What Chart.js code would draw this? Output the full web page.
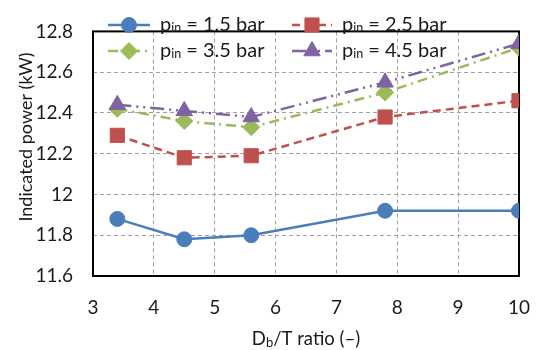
<!DOCTYPE html>
<html><head><meta charset="utf-8">
<script src="https://cdn.jsdelivr.net/npm/chart.js@4.4.1/dist/chart.umd.min.js"></script>
<style>html,body{margin:0;padding:0;background:#fff;}</style>
</head><body>
<canvas id="c" width="550" height="350" style="width:550px;height:350px;display:block"></canvas>
<script>
const xValues = [3.4, 4.5, 5.6, 7.8, 10];
const pressures = ['1.5', '2.5', '3.5', '4.5'];
const p15 = [11.88, 11.78, 11.80, 11.92, 11.92];
const p25 = [12.29, 12.18, 12.19, 12.38, 12.46];
const p35 = [12.42, 12.36, 12.33, 12.50, 12.72];
const p45 = [12.44, 12.41, 12.38, 12.55, 12.74];
const xTicks = [3, 4, 5, 6, 7, 8, 9, 10];
const yTicks = [11.6, 11.8, 12, 12.2, 12.4, 12.6, 12.8];

const FONT = 'Lato';
const TXT = '#1a1a1a';
Chart.defaults.font.family = FONT;
Chart.defaults.font.size = 19;
Chart.defaults.color = TXT;

const styles = [
  {color:'#4A7EBB', dash:[], style:'circle', r:7.5},
  {color:'#C0504D', dash:[8,5], style:'rect', r:10},
  {color:'#9BBB59', dash:[10,5,2,5], style:'rectRot', r:8.5},
  {color:'#8064A2', dash:[14,5,2,5,2,5], style:'triangle', r:9.5}
];
const series = [p15, p25, p35, p45];

const datasets = series.map((vals, i) => ({
  label: 'p_in = ' + pressures[i] + ' bar',
  data: xValues.map((x, j) => ({x: x, y: vals[j]})),
  borderColor: styles[i].color,
  backgroundColor: styles[i].color,
  borderDash: styles[i].dash,
  borderWidth: 2.5,
  pointStyle: styles[i].style,
  pointRadius: styles[i].r,
  pointHoverRadius: styles[i].r,
  pointBorderWidth: 1,
  pointBackgroundColor: styles[i].color,
  pointBorderColor: styles[i].color,
  tension: 0,
  order: 4 - i
}));

function drawSubText(ctx, parts, x, y) {
  let cx = x;
  parts.forEach(p => {
    ctx.font = p.size + 'px ' + FONT;
    ctx.fillText(p.t, cx, y + (p.dy || 0));
    cx += ctx.measureText(p.t).width;
  });
  return cx;
}
function measureSub(ctx, parts) {
  let w = 0;
  parts.forEach(p => { ctx.font = p.size + 'px ' + FONT; w += ctx.measureText(p.t).width; });
  return w;
}

const extras = {
  id: 'extras',
  beforeDatasetsDraw(chart) {
    const {ctx, chartArea: a} = chart;
    ctx.save();
    ctx.strokeStyle = '#000';
    ctx.lineWidth = 2;
    ctx.setLineDash([]);
    ctx.strokeRect(a.left, a.top, a.right - a.left, a.bottom - a.top);
    ctx.restore();
  },
  afterDraw(chart) {
    const {ctx, chartArea: a} = chart;
    ctx.save();
    ctx.fillStyle = TXT;
    // y title
    ctx.save();
    ctx.translate(26, 137);
    ctx.rotate(-Math.PI / 2);
    ctx.font = '18px ' + FONT;
    ctx.textAlign = 'center';
    ctx.textBaseline = 'middle';
    ctx.fillText('Indicated power (kW)', 0, 0);
    ctx.restore();
    // x title
    ctx.textAlign = 'left';
    ctx.textBaseline = 'alphabetic';
    const xt = [{t:'D', size:18.5}, {t:'b', size:13, dy:2}, {t:'/T ratio (\u2013)', size:18.5}];
    const w = measureSub(ctx, xt);
    drawSubText(ctx, xt, (a.left + a.right) / 2 - w / 2, 345);
    // legend
    const cols = [{l0:108, l1:150, m:129, t:160}, {l0:292, l1:332, m:312, t:342}];
    const rows = [25, 51];
    styles.forEach((s, i) => {
      const c = cols[i % 2], y = rows[Math.floor(i / 2)];
      ctx.save();
      ctx.strokeStyle = s.color;
      ctx.lineWidth = 2.5;
      ctx.setLineDash(s.dash);
      ctx.beginPath();
      ctx.moveTo(c.l0, y); ctx.lineTo(c.l1, y);
      ctx.stroke();
      ctx.setLineDash([]);
      ctx.fillStyle = s.color;
      ctx.lineWidth = 1;
      Chart.helpers.drawPoint(ctx, {pointStyle: s.style, radius: s.r, borderWidth: 1, rotation: 0}, c.m, y);
      ctx.restore();
      ctx.fillStyle = TXT;
      ctx.textBaseline = 'middle';
      drawSubText(ctx, [{t:'p', size:20}, {t:'in', size:12.5, dy:3}, {t:' = ' + pressures[i] + ' bar', size:20}], c.t, y);
    });
    ctx.restore();
  }
};

new Chart(document.getElementById('c'), {
  type: 'line',
  data: {datasets},
  options: {
    responsive: false,
    animation: false,
    layout: {padding: {left: 0, top: 15, right: 15, bottom: 0}},
    plugins: {legend: {display: false}, tooltip: {enabled: false}},
    scales: {
      x: {
        type: 'linear',
        min: 3, max: 10,
        afterBuildTicks: s => { s.ticks = xTicks.map(v => ({value: v})); },
        afterFit: s => { s.height = 74; },
        grid: {color: '#a0a0a0', lineWidth: 1, drawTicks: false},
        border: {display: false, dash: [4, 3]},
        ticks: {padding: 20, font: {size: 19}, color: TXT, callback: v => String(v)}
      },
      y: {
        type: 'linear',
        min: 11.6, max: 12.8,
        afterBuildTicks: s => { s.ticks = yTicks.map(v => ({value: v})); },
        afterFit: s => { s.width = 93; },
        grid: {color: '#a0a0a0', lineWidth: 1, drawTicks: false},
        border: {display: false, dash: [4, 3]},
        ticks: {padding: 20, font: {size: 19}, color: TXT, callback: v => String(v)}
      }
    }
  },
  plugins: [extras]
});
</script>
</body></html>
